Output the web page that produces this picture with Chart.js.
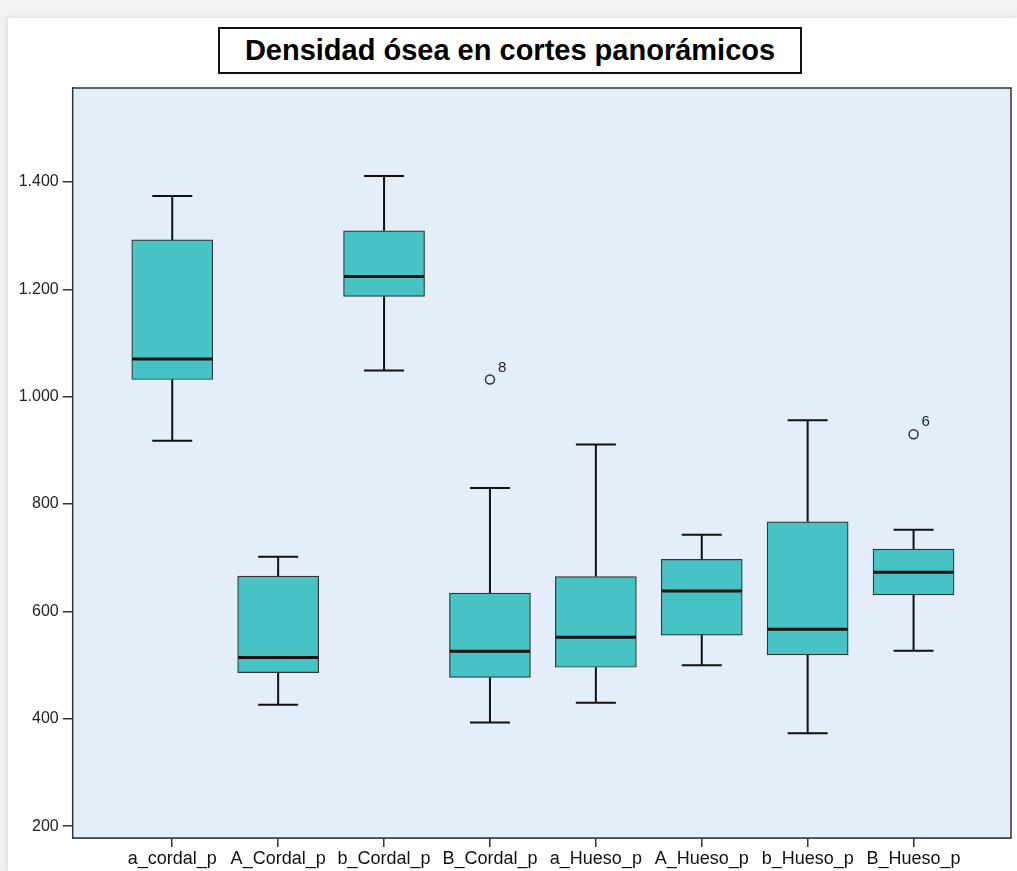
<!DOCTYPE html>
<html>
<head>
<meta charset="utf-8">
<script src="https://cdn.jsdelivr.net/npm/chart.js@4/dist/chart.umd.min.js"></script>
<style>
  body { margin: 0; background: #f2f2f2; width: 1017px; height: 871px; overflow: hidden; position: relative; }
  #panel { position: absolute; left: 8px; top: 18px; right: 0; bottom: 0; background: #fff; box-shadow: 0 0 6px rgba(0,0,0,0.12); }
  #c { position: absolute; left: 0; top: 0; }
  #title {
    position: absolute; left: 218px; top: 27px; width: 580px; height: 43px;
    border: 2px solid #111; background: #fff;
    font: bold 29px "Liberation Sans", Arial, sans-serif; color: #000;
    display: flex; align-items: center; justify-content: center;
  }
</style>
</head>
<body>
<div id="panel"></div>
<canvas id="c" width="1017" height="871"></canvas>
<div id="title">Densidad ósea en cortes panorámicos</div>
<script>
// Box plot values (SPSS style)
const categories = ['a_cordal_p', 'A_Cordal_p', 'b_Cordal_p', 'B_Cordal_p', 'a_Hueso_p', 'A_Hueso_p', 'b_Hueso_p', 'B_Hueso_p'];
const whiskerLow = [918, 426, 1049, 393, 430, 500, 373, 527];
const q1 = [1032, 486, 1187, 477, 496, 556, 519, 631];
const medians = [1070, 514, 1224, 526, 552, 638, 567, 673];
const q3 = [1292, 666, 1309, 634, 665, 697, 767, 716];
const whiskerHigh = [1374, 702, 1411, 830, 911, 743, 956, 752];

// Outliers (category index, value, case label)
const outlierIndex = [3, 7];
const outlierValues = [1032, 930];
const outlierLabels = ['8', '6'];

const yTicks = [200, 400, 600, 800, 1000, 1200, 1400];

const boxFill = '#48c3c5';
const lineColor = '#111';

function fmt(v) {
    return String(v).replace(/\B(?=(\d{3})+(?!\d))/g, '.');
}

// plot background + frame
const framePlugin = {
    id: 'frame',
    beforeDatasetsDraw(chart) {
        const a = chart.chartArea, ctx = chart.ctx;
        ctx.save();
        ctx.fillStyle = '#e3eefa';
        ctx.fillRect(a.left, a.top, a.right - a.left, a.bottom - a.top);
        ctx.restore();
    },
    afterDraw(chart) {
        const a = chart.chartArea, ctx = chart.ctx;
        ctx.save();
        ctx.strokeStyle = '#333';
        ctx.lineWidth = 1.5;
        ctx.strokeRect(a.left, a.top, a.right - a.left, a.bottom - a.top);
        ctx.restore();
    }
};

// whiskers, caps and medians drawn with the chart scales
const boxPlugin = {
    id: 'boxExtras',
    afterDatasetsDraw(chart) {
        const ctx = chart.ctx;
        const xs = chart.scales.x, ys = chart.scales.y;
        ctx.save();
        ctx.strokeStyle = lineColor;
        categories.forEach((c, i) => {
            const x = xs.getPixelForValue(i);
            ctx.lineWidth = 2;
            ctx.beginPath();
            ctx.moveTo(x, ys.getPixelForValue(whiskerHigh[i]));
            ctx.lineTo(x, ys.getPixelForValue(q3[i]));
            ctx.moveTo(x, ys.getPixelForValue(q1[i]));
            ctx.lineTo(x, ys.getPixelForValue(whiskerLow[i]));
            ctx.moveTo(x - 20, ys.getPixelForValue(whiskerHigh[i]));
            ctx.lineTo(x + 20, ys.getPixelForValue(whiskerHigh[i]));
            ctx.moveTo(x - 20, ys.getPixelForValue(whiskerLow[i]));
            ctx.lineTo(x + 20, ys.getPixelForValue(whiskerLow[i]));
            ctx.stroke();
            ctx.lineWidth = 3;
            ctx.beginPath();
            ctx.moveTo(x - 40, ys.getPixelForValue(medians[i]));
            ctx.lineTo(x + 40, ys.getPixelForValue(medians[i]));
            ctx.stroke();
        });
        // case labels next to outliers
        ctx.fillStyle = '#222';
        ctx.font = '15px "Liberation Sans", Arial, sans-serif';
        ctx.textBaseline = 'middle';
        outlierIndex.forEach((k, j) => {
            const x = xs.getPixelForValue(k), y = ys.getPixelForValue(outlierValues[j]);
            ctx.fillText(outlierLabels[j], x + 8, y - 12);
        });
        ctx.restore();
    }
};

new Chart(document.getElementById('c'), {
    type: 'bar',
    data: {
        datasets: [{
            label: 'box',
            data: categories.map((c, i) => ({ x: i, y: [q1[i], q3[i]] })),
            backgroundColor: boxFill,
            borderColor: '#333',
            borderWidth: 1.2,
            borderSkipped: false,
            barThickness: 81
        }, {
            type: 'scatter',
            label: 'outliers',
            data: outlierIndex.map((k, j) => ({ x: k, y: outlierValues[j] })),
            pointStyle: 'circle',
            pointRadius: 4.5,
            borderColor: '#333',
            borderWidth: 1.5,
            backgroundColor: 'rgba(0,0,0,0)'
        }]
    },
    options: {
        responsive: false,
        animation: false,
        layout: { padding: { left: 0, top: 88, right: 4, bottom: 0 } },
        plugins: {
            legend: { display: false },
            tooltip: { enabled: false }
        },
        scales: {
            x: {
                type: 'linear',
                offset: false,
                min: -0.94,
                max: 7.92,
                afterBuildTicks: (s) => { s.ticks = categories.map((c, i) => ({ value: i })); },
                afterFit: (s) => { s.height = 33; },
                ticks: {
                    autoSkip: false,
                    maxRotation: 0,
                    padding: 1,
                    color: '#111',
                    font: { family: '"Liberation Sans", Arial, sans-serif', size: 18 },
                    callback: (v) => categories[v]
                },
                grid: { offset: false, drawOnChartArea: false, drawTicks: true, tickLength: 9, color: '#333', lineWidth: 1.5 },
                border: { display: true, color: '#333', width: 1.5 }
            },
            y: {
                min: 178,
                max: 1575,
                afterBuildTicks: (s) => { s.ticks = yTicks.map(v => ({ value: v })); },
                afterFit: (s) => { s.width = 72.7; },
                ticks: {
                    padding: 4,
                    color: '#222',
                    font: { family: '"Liberation Sans", Arial, sans-serif', size: 16 },
                    callback: (v) => fmt(v)
                },
                grid: { drawOnChartArea: false, drawTicks: true, tickLength: 10, color: '#333', lineWidth: 1.5 },
                border: { display: true, color: '#333', width: 1.5 }
            }
        }
    },
    plugins: [framePlugin, boxPlugin]
});
</script>
</body>
</html>
